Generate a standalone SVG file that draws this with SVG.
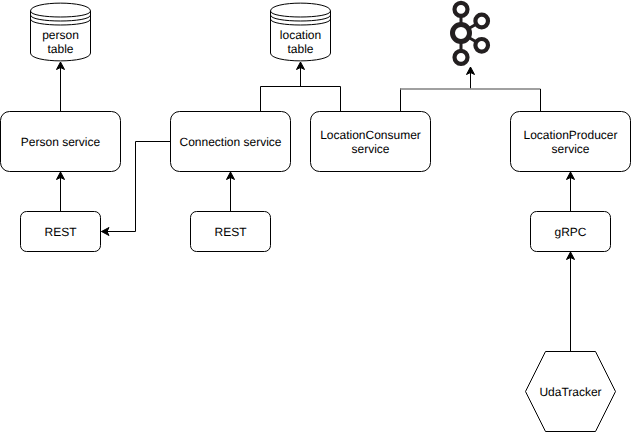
<svg xmlns="http://www.w3.org/2000/svg" width="631" height="432" viewBox="0 0 631 432">
<style>
.s{fill:#fff;stroke:#000;stroke-width:1}
.c{fill:none;stroke:#000;stroke-width:1}
.a{marker-end:url(#arrow)}
.k{fill:none;stroke:#231f20}
text{font-family:"Liberation Sans",Arial,sans-serif;font-size:12px;fill:#000;text-anchor:middle;text-rendering:geometricPrecision}
</style>
<defs>
<marker id="arrow" markerUnits="userSpaceOnUse" markerWidth="9" markerHeight="10" refX="8" refY="4.5" orient="auto"><path d="M0.500 0.500L8 4.500L0.500 8.500L2.500 4.500Z" fill="#000" stroke="#000"/></marker>
<g id="cyl"><path class="s" d="M0 9.500C0 -1 60 -1 60 9.500V51.500C60 62 0 62 0 51.500Z"/><path class="c" d="M0 9.500C0 17.500 60 17.500 60 9.500M0 13.500C0 21.500 60 21.500 60 13.500M0 17.500C0 25.500 60 25.500 60 17.500"/></g>
</defs>
<rect width="631" height="432" fill="#fff"/>
<g id="connectors">
<path class="c a" d="M60.500 111.500V62"/>
<path class="c a" d="M60.500 211.500V172"/>
<path class="c a" d="M230.500 211.500V172"/>
<path class="c a" d="M170.500 141.500H135.500V231.500H101.500"/>
<path class="c a" d="M300.500 86.500V62"/>
<path class="c" d="M260.500 111.500V86.500H340.500V111.500"/>
<path class="c a" d="M470.500 88.500V67"/>
<path class="c" d="M400.500 111.500V88.500"/>
<path d="M400 89H540.500" fill="none" stroke="#808080" stroke-width="1.500"/>
<path class="c" d="M540.500 89V111.500"/>
<path class="c a" d="M570.500 211.500V172"/>
<path class="c a" d="M570.500 351.500V252"/>
</g>
<g id="person-table"><use href="#cyl" x="30.500" y="1.500"/><text x="60.500" y="39">person</text><text x="60.500" y="53">table</text></g>
<g id="location-table"><use href="#cyl" x="270.500" y="1.500"/><text x="300.500" y="39">location</text><text x="300.500" y="53">table</text></g>
<g id="kafka" class="k">
<path stroke-width="3" d="M461 9V57M461 33L481.700 21M461 33L481.700 45"/>
<circle cx="461" cy="9.300" r="6.500" fill="#fff" stroke-width="4.200"/>
<circle cx="461" cy="33" r="8.500" fill="#fff" stroke-width="5"/>
<circle cx="481.700" cy="21" r="6.300" fill="#fff" stroke-width="4.200"/>
<circle cx="481.700" cy="45.300" r="6.300" fill="#fff" stroke-width="4.200"/>
<circle cx="461" cy="57.300" r="6.500" fill="#fff" stroke-width="4.200"/>
</g>
<g id="person-service"><rect class="s" x="0.500" y="111.500" width="120" height="60" rx="9" ry="9"/><text x="60.500" y="146">Person service</text></g>
<g id="connection-service"><rect class="s" x="170.500" y="111.500" width="120" height="60" rx="9" ry="9"/><text x="230.500" y="146">Connection service</text></g>
<g id="location-consumer"><rect class="s" x="310.500" y="111.500" width="120" height="60" rx="9" ry="9"/><text x="370.500" y="139">LocationConsumer</text><text x="370.500" y="153">service</text></g>
<g id="location-producer"><rect class="s" x="510.500" y="111.500" width="120" height="60" rx="9" ry="9"/><text x="570.500" y="139">LocationProducer</text><text x="570.500" y="153">service</text></g>
<g id="rest-1"><rect class="s" x="20.500" y="211.500" width="80" height="40" rx="6" ry="6"/><text x="60.500" y="236">REST</text></g>
<g id="rest-2"><rect class="s" x="190.500" y="211.500" width="80" height="40" rx="6" ry="6"/><text x="230.500" y="236">REST</text></g>
<g id="grpc"><rect class="s" x="530.500" y="211.500" width="80" height="40" rx="6" ry="6"/><text x="570.500" y="236">gRPC</text></g>
<g id="udatracker"><path class="s" d="M545.500 351.500H595.500L615.500 391.500L595.500 431.500H545.500L525.500 391.500Z"/><text x="570.500" y="396">UdaTracker</text></g>
</svg>
